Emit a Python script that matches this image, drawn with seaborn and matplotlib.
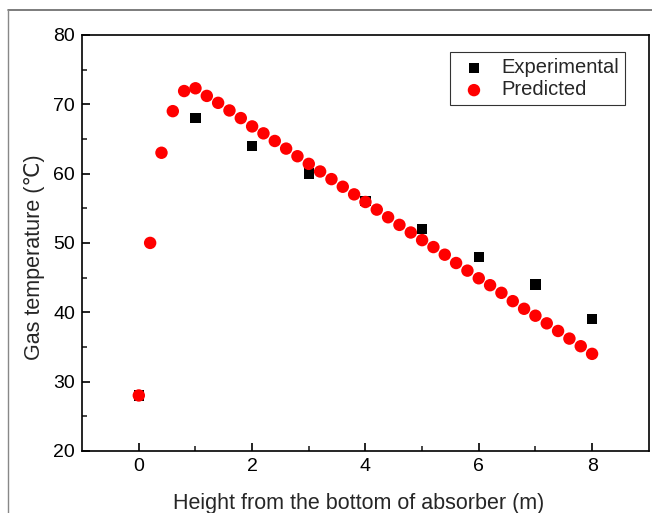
import numpy as np
import pandas as pd
import matplotlib.pyplot as plt
from matplotlib.lines import Line2D
import seaborn as sns

# Data
exp_height = [0, 1, 2, 3, 4, 5, 6, 7, 8]
exp_temp = [28, 68, 64, 60, 56, 52, 48, 44, 39]

pred_height = [0.0, 0.2, 0.4, 0.6, 0.8, 1.0, 1.2, 1.4, 1.6, 1.8,
               2.0, 2.2, 2.4, 2.6, 2.8, 3.0, 3.2, 3.4, 3.6, 3.8,
               4.0, 4.2, 4.4, 4.6, 4.8, 5.0, 5.2, 5.4, 5.6, 5.8,
               6.0, 6.2, 6.4, 6.6, 6.8, 7.0, 7.2, 7.4, 7.6, 7.8, 8.0]
pred_temp = [28.0, 50.0, 63.0, 69.0, 71.9, 72.3, 71.2, 70.2, 69.1, 68.0,
             66.8, 65.8, 64.7, 63.6, 62.5, 61.4, 60.3, 59.2, 58.1, 57.0,
             55.9, 54.8, 53.7, 52.6, 51.5, 50.4, 49.4, 48.3, 47.1, 46.0,
             44.9, 43.9, 42.8, 41.6, 40.5, 39.5, 38.4, 37.3, 36.2, 35.1, 34.0]

sns.set_style('ticks')
plt.rcParams['font.family'] = ['Liberation Sans', 'DejaVu Sans']

exp_df = pd.DataFrame({'h': exp_height, 't': exp_temp})
pred_df = pd.DataFrame({'h': pred_height, 't': pred_temp})

fig = plt.figure(figsize=(6.52, 5.13), dpi=100)
ax = fig.add_axes([0.126, 0.121, 0.869, 0.811])

sns.scatterplot(data=exp_df, x='h', y='t', marker='s', s=55, color='black',
                edgecolor='none', label='Experimental', ax=ax, zorder=2)
sns.scatterplot(data=pred_df, x='h', y='t', marker='o', s=80, color='#ff0000',
                edgecolor='none', label='Predicted', ax=ax, zorder=3)

ax.set_xlim(-1, 9)
ax.set_ylim(20, 80)
ax.set_xticks([0, 2, 4, 6, 8])
ax.set_xticks([1, 3, 5, 7], minor=True)
ax.set_yticks([20, 30, 40, 50, 60, 70, 80])
ax.set_yticks([25, 35, 45, 55, 65, 75], minor=True)
ax.tick_params(which='major', direction='in', length=6, width=1.2, labelsize=14,
               top=False, right=False, colors='black', pad=5)
ax.tick_params(which='minor', direction='in', length=3.5, width=1.2,
               top=False, right=False)
for sp in ax.spines.values():
    sp.set_linewidth(1.2)
    sp.set_color('black')

ax.set_xlabel('Height from the bottom of absorber (m)', fontsize=15.5)
ax.xaxis.set_label_coords(0.488, -0.102)
ax.set_ylabel('Gas temperature (℃)', fontsize=15.5)
ax.yaxis.set_label_coords(-0.065, 0.465)

leg = ax.legend(loc='upper right', bbox_to_anchor=(0.958, 0.958), fontsize=14.5,
                frameon=True, fancybox=False, edgecolor='black', borderaxespad=0,
                handlelength=1.8, handletextpad=0.45, borderpad=0.3,
                labelspacing=0.15)
leg.get_frame().set_linewidth(0.8)

# thin grey frame of the original screenshot
fig.add_artist(Line2D([0.012, 1.0], [0.981, 0.981], color='#666666', lw=1.2,
                      transform=fig.transFigure))
fig.add_artist(Line2D([0.012, 0.012], [0.0, 0.981], color='#888888', lw=1.0,
                      transform=fig.transFigure))

fig.savefig('out.png', dpi=100)
